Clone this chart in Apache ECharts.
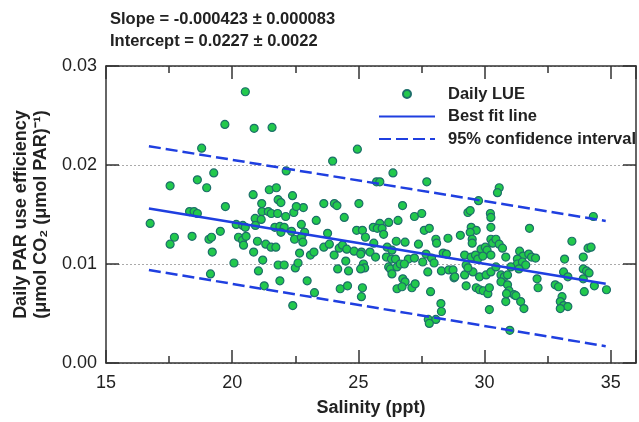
<!DOCTYPE html>
<html><head><meta charset="utf-8">
<script src="https://cdn.jsdelivr.net/npm/echarts@6/dist/echarts.min.js"></script>
<style>html,body{margin:0;padding:0;background:#fff}#c{width:639px;height:422px}</style>
</head><body><div id="c"></div>
<script>
// Daily LUE observations: salinity (ppt) and LUE
const salinity = [
20.52,19.71,20.87,21.58,18.79,22.14,19.27,18.62,17.54,18.99,20.83,21.47,21.75,22.39,21.17,21.82,21.93,19.73,
16.75,18.31,18.49,18.62,21.18,21.43,21.55,21.80,22.12,22.44,20.91,21.15,20.16,20.42,20.52,20.92,21.69,21.89,22.06,22.35,21.93,19.53,
18.41,17.71,17.54,19.08,19.18,20.25,20.41,20.55,20.45,21.00,21.33,21.54,21.73,22.47,20.85,19.21,21.21,20.07,21.82,22.06,22.50,21.04,19.14,21.89,21.27,22.40,
24.96,23.98,26.37,25.72,25.85,27.71,23.63,24.05,24.15,25.02,26.75,22.82,
22.54,24.44,23.33,27.22,27.51,26.57,26.20,25.85,25.59,25.75,25.94,22.74,22.87,23.78,24.93,25.16,25.28,26.00,27.61,27.81,
22.74,22.80,25.61,26.50,26.85,27.38,28.07,28.10,28.55,23.63,23.85,24.24,24.37,24.54,24.83,25.12,25.46,25.09,22.67,23.10,23.24,24.04,
26.14,26.33,25.68,26.11,26.31,26.47,26.98,27.22,27.68,27.90,27.55,28.00,28.36,24.50,25.20,25.25,25.09,22.61,26.20,26.27,26.53,26.66,26.82,
24.18,24.61,26.33,27.75,28.29,28.58,28.75,22.97,26.76,26.85,26.53,26.73,27.12,27.25,28.79,24.28,24.57,25.16,25.12,23.26,27.86,28.27,28.29,27.77,28.07,27.81,
30.58,30.51,29.76,
29.34,29.43,30.23,30.25,34.31,29.47,29.67,29.43,30.25,31.78,29.04,29.51,29.51,30.25,30.32,30.45,30.58,30.71,33.46,34.10,34.22,29.86,30.03,30.10,
28.49,29.21,29.47,29.64,29.73,29.93,30.25,30.84,31.39,31.52,31.75,31.86,32.02,31.30,31.30,31.50,31.63,31.36,33.17,33.91,
28.82,29.21,29.54,29.27,29.34,29.80,30.06,30.25,30.45,30.65,30.78,30.91,31.04,30.65,30.91,30.97,31.17,31.24,29.27,29.67,29.80,29.95,30.13,30.19,
30.84,31.43,31.56,30.19,31.00,32.08,32.12,32.80,32.93,33.07,33.00,33.13,33.30,33.00,33.13,33.30,33.91,34.04,34.14,33.91,33.95,34.35,34.83,30.87
];
const lue = [
0.0274,0.0241,0.0237,0.0238,0.0217,0.0194,0.0192,0.0185,0.0179,0.0177,0.0170,0.0175,0.0177,0.0169,0.0161,0.0165,0.0162,0.0158,
0.0141,0.0153,0.0153,0.0151,0.0153,0.0153,0.0151,0.0151,0.0148,0.0152,0.0146,0.0145,0.0140,0.0139,0.0137,0.0139,0.0137,0.0138,0.0137,0.0133,0.0132,0.0133,
0.0128,0.0127,0.0120,0.0125,0.0127,0.0127,0.0124,0.0128,0.0119,0.0123,0.0120,0.0117,0.0117,0.0125,0.0112,0.0112,0.0104,0.0101,0.0099,0.0099,0.0096,0.0093,0.0090,0.0083,0.0078,0.0058,
0.0216,0.0204,0.0192,0.0183,0.0183,0.0183,0.0161,0.0161,0.0159,0.0161,0.0159,0.0157,
0.0158,0.0147,0.0144,0.0148,0.0151,0.0144,0.0142,0.0141,0.0137,0.0136,0.0136,0.0140,0.0132,0.0131,0.0134,0.0134,0.0127,0.0130,0.0134,0.0136,
0.0127,0.0122,0.0121,0.0123,0.0122,0.0120,0.0125,0.0121,0.0126,0.0117,0.0120,0.0116,0.0119,0.0115,0.0113,0.0112,0.0112,0.0110,0.0111,0.0109,0.0112,0.0109,
0.0117,0.0114,0.0107,0.0107,0.0105,0.0105,0.0105,0.0106,0.0110,0.0106,0.0102,0.0101,0.0111,0.0103,0.0100,0.0096,0.0095,0.0101,0.0097,0.0095,0.0097,0.0100,0.0100,
0.0095,0.0093,0.0090,0.0092,0.0093,0.0094,0.0094,0.0083,0.0085,0.0082,0.0075,0.0077,0.0076,0.0080,0.0086,0.0075,0.0078,0.0076,0.0067,0.0071,0.0072,0.0060,0.0052,0.0044,0.0044,0.0040,
0.0177,0.0172,0.0164,
0.0152,0.0154,0.0151,0.0147,0.0148,0.0137,0.0134,0.0132,0.0137,0.0136,0.0129,0.0125,0.0121,0.0125,0.0121,0.0125,0.0120,0.0116,0.0123,0.0116,0.0117,0.0115,0.0117,0.0114,
0.0110,0.0109,0.0107,0.0109,0.0105,0.0108,0.0109,0.0107,0.0113,0.0108,0.0110,0.0107,0.0106,0.0105,0.0100,0.0102,0.0099,0.0095,0.0105,0.0107,
0.0087,0.0089,0.0092,0.0099,0.0096,0.0087,0.0089,0.0092,0.0097,0.0089,0.0087,0.0089,0.0097,0.0082,0.0079,0.0073,0.0069,0.0068,0.0078,0.0076,0.0074,0.0073,0.0070,0.0076,
0.0062,0.0062,0.0055,0.0054,0.0033,0.0085,0.0076,0.0079,0.0077,0.0067,0.0062,0.0058,0.0057,0.0055,0.0092,0.0087,0.0095,0.0093,0.0091,0.0085,0.0072,0.0078,0.0074,0.0070
];
// Best fit line and 95% confidence interval end points
const lineX = [16.7, 34.8];
const fitY = [0.0156, 0.0080];
const ciUpperY = [0.0219, 0.01435];
const ciLowerY = [0.0094, 0.0017];
// Axis ticks
const xTicks = [15, 20, 25, 30, 35];
const yTicks = [0.00, 0.01, 0.02, 0.03];
const titleLines = ['Slope = -0.000423 \u00b1 0.000083', 'Intercept = 0.0227 \u00b1 0.0022'];

const FONT = '"Liberation Sans", Arial, sans-serif';
const AXC = '#333';
const BLUE = '#1f3fe0';
const DASH = [12, 5];

const pts = salinity.map((s, i) => [s, lue[i]]);
const mk = ys => lineX.map((x, i) => [x, ys[i]]);

const chart = echarts.init(document.getElementById('c'), null, {renderer: 'canvas'});

const xBase = {type: 'value', min: 15, max: 36, gridIndex: 0, splitLine: {show: false}};
const xAxis = [
  Object.assign({}, xBase, {
    position: 'bottom', interval: 5,
    axisLine: {show: true, onZero: false, lineStyle: {color: AXC, width: 1.5}},
    axisTick: {show: true, inside: true, length: 13, lineStyle: {color: AXC, width: 1.5}},
    axisLabel: {show: true, fontSize: 18, color: '#222', fontFamily: FONT, margin: 11,
      formatter: v => xTicks.indexOf(v) >= 0 ? String(v) : ''},
    name: 'Salinity (ppt)', nameLocation: 'middle', nameGap: 36,
    nameTextStyle: {fontSize: 18, fontWeight: 'bold', color: '#222', fontFamily: FONT}
  }),
  Object.assign({}, xBase, {
    position: 'bottom', interval: 2.5,
    axisLine: {show: false, onZero: false},
    axisTick: {show: true, inside: true, length: 7, lineStyle: {color: AXC, width: 1.5}},
    axisLabel: {show: false}
  }),
  Object.assign({}, xBase, {
    position: 'top', interval: 5,
    axisLine: {show: true, onZero: false, lineStyle: {color: AXC, width: 1.5}},
    axisTick: {show: true, inside: true, length: 13, lineStyle: {color: AXC, width: 1.5}},
    axisLabel: {show: false}
  }),
  Object.assign({}, xBase, {
    position: 'top', interval: 2.5,
    axisLine: {show: false, onZero: false},
    axisTick: {show: true, inside: true, length: 7, lineStyle: {color: AXC, width: 1.5}},
    axisLabel: {show: false}
  })
];

const yAxis = [
  {type: 'value', position: 'left', min: 0, max: 0.03, interval: 0.01,
    axisLine: {show: true, onZero: false, lineStyle: {color: AXC, width: 1.5}},
    axisTick: {show: true, inside: true, length: 13, lineStyle: {color: AXC, width: 1.5}},
    axisLabel: {fontSize: 18, color: '#222', fontFamily: FONT, margin: 9,
      formatter: v => { const t = yTicks.find(k => Math.abs(k - v) < 1e-9); return t === undefined ? '' : t.toFixed(2); }},
    splitLine: {show: true, lineStyle: {color: '#aaa', width: 1, type: [2, 2]}},
    name: 'Daily PAR use efficiency\n(\u03bcmol CO\u2082 (\u03bcmol PAR)\u207b\u00b9)',
    nameLocation: 'middle', nameRotate: 90, nameGap: 55,
    nameTextStyle: {fontSize: 18, fontWeight: 'bold', color: '#222', fontFamily: FONT, lineHeight: 20}
  },
  {type: 'value', position: 'right', min: 0, max: 0.03, interval: 0.01,
    axisLine: {show: true, onZero: false, lineStyle: {color: AXC, width: 1.5}},
    axisTick: {show: true, inside: true, length: 13, lineStyle: {color: AXC, width: 1.5}},
    axisLabel: {show: false}, splitLine: {show: false}
  }
];

const hiddenDot = {color: 'rgba(0,0,0,0)', borderColor: 'rgba(0,0,0,0)', borderWidth: 0, opacity: 0};

chart.setOption({
  animation: false,
  backgroundColor: '#fff',
  textStyle: {fontFamily: FONT},
  title: {
    text: titleLines.join('\n'), left: 105, top: 3, padding: 5,
    textStyle: {fontSize: 16.5, fontWeight: 'bold', color: '#222', fontFamily: FONT, lineHeight: 22}
  },
  grid: {left: 106, right: -3, top: 66, bottom: 55, containLabel: false},
  legend: {
    orient: 'vertical', left: 373, top: 80, padding: 5,
    itemWidth: 56, itemHeight: 8, itemGap: 4.5,
    textStyle: {fontSize: 16.5, fontWeight: 'bold', color: '#222', fontFamily: FONT, lineHeight: 18, padding: [0, 0, 0, 8]},
    data: [
      {name: 'Daily LUE'},
      {name: 'Best fit line', itemStyle: hiddenDot},
      {name: '95% confidence interval', itemStyle: hiddenDot}
    ]
  },
  xAxis: xAxis,
  yAxis: yAxis,
  series: [
    {name: 'Daily LUE', type: 'scatter', xAxisIndex: 0, yAxisIndex: 0, data: pts,
      symbol: 'circle', symbolSize: 8, z: 2,
      itemStyle: {color: '#22c94c', borderColor: '#1d6f6a', borderWidth: 1.2, opacity: 1}},
    {name: 'Best fit line', type: 'line', xAxisIndex: 0, yAxisIndex: 0, data: mk(fitY),
      showSymbol: false, symbol: 'none', z: 3,
      lineStyle: {color: BLUE, width: 2.5, type: 'solid'}, itemStyle: {color: BLUE}},
    {name: '95% confidence interval', type: 'line', xAxisIndex: 0, yAxisIndex: 0, data: mk(ciUpperY),
      showSymbol: false, symbol: 'none', z: 3,
      lineStyle: {color: BLUE, width: 2.5, type: DASH}, itemStyle: {color: BLUE}},
    {name: '95% confidence interval', type: 'line', xAxisIndex: 0, yAxisIndex: 0, data: mk(ciLowerY),
      showSymbol: false, symbol: 'none', z: 3,
      lineStyle: {color: BLUE, width: 2.5, type: DASH}, itemStyle: {color: BLUE}}
  ]
});
</script>
</body></html>
